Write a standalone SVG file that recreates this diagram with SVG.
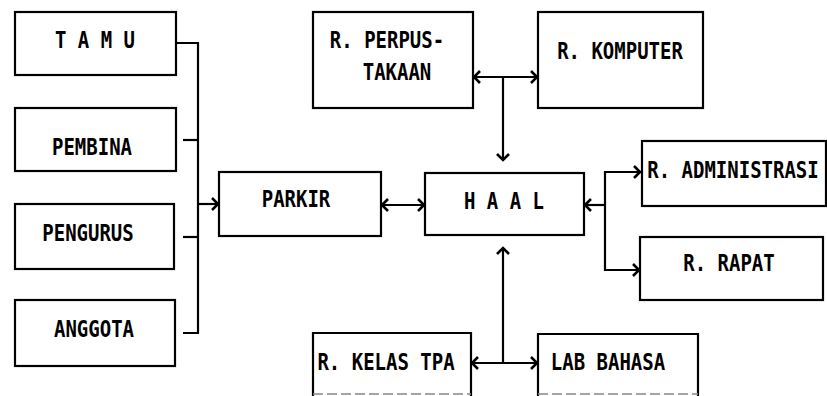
<svg xmlns="http://www.w3.org/2000/svg" width="827" height="396" viewBox="0 0 827 396">
<style>
.box{fill:#fff;stroke:#000;stroke-width:2.2}
.faint{fill:none;stroke:#888;stroke-width:1.5;stroke-dasharray:10 4}
.lbl{font-family:"DejaVu Sans Mono","Liberation Mono",monospace;font-size:19px;font-weight:bold;fill:#000;text-anchor:middle}
.c{fill:none;stroke:#000;stroke-width:2.2}
.a{marker-end:url(#chev)}
.ab{marker-start:url(#chev);marker-end:url(#chev)}
.as{marker-start:url(#chev)}
</style>
<defs>
<marker id="chev" markerUnits="userSpaceOnUse" markerWidth="12" markerHeight="14" refX="7" refY="6" orient="auto-start-reverse" overflow="visible">
<path d="M1,0 L7,6 L1,12" fill="none" stroke="#000" stroke-width="2.6"/>
</marker>
</defs>
<rect width="827" height="396" fill="#fff"/>
<g id="connectors">
<path class="c" d="M176,43 H198 V333 H183"/>
<path class="c" d="M183,140 H198"/>
<path class="c" d="M183,237 H198"/>
<path class="c a" d="M198,204 H218"/>
<path class="c ab" d="M382,205 H424"/>
<path class="c ab" d="M474,77 H537"/>
<path class="c a" d="M503,77 V160"/>
<path class="c as" d="M503,248 V363"/>
<path class="c ab" d="M472,363 H537"/>
<path class="c as" d="M585,205 H605"/>
<path class="c ab" d="M640,172 H605 V270 H639"/>
</g>
<g id="tamu"><rect class="box" x="15" y="12" width="161" height="63"/><text class="lbl" transform="translate(95 48) scale(1 1.2)">T A M U</text></g>
<g id="pembina"><rect class="box" x="15" y="108" width="161" height="63"/><text class="lbl" transform="translate(92 155) scale(1 1.2)">PEMBINA</text></g>
<g id="pengurus"><rect class="box" x="15" y="204" width="159" height="65"/><text class="lbl" transform="translate(88 241) scale(1 1.2)">PENGURUS</text></g>
<g id="anggota"><rect class="box" x="15" y="300" width="160" height="66"/><text class="lbl" transform="translate(94 337) scale(1 1.2)">ANGGOTA</text></g>
<g id="parkir"><rect class="box" x="219" y="172" width="162" height="64"/><text class="lbl" transform="translate(296 207) scale(1 1.2)">PARKIR</text></g>
<g id="haal"><rect class="box" x="425" y="173" width="159" height="62"/><text class="lbl" transform="translate(504 209) scale(1 1.2)">H A A L</text></g>
<g id="perpustakaan"><rect class="box" x="313" y="12" width="160" height="96"/><text class="lbl" transform="translate(387 48) scale(1 1.2)">R. PERPUS-</text><text class="lbl" transform="translate(397 80) scale(1 1.2)">TAKAAN</text></g>
<g id="komputer"><rect class="box" x="538" y="12" width="165" height="96"/><text class="lbl" transform="translate(620 59) scale(1 1.2)">R. KOMPUTER</text></g>
<g id="administrasi"><rect class="box" x="642" y="141" width="184" height="65"/><text class="lbl" transform="translate(733 178) scale(1 1.2)">R. ADMINISTRASI</text></g>
<g id="rapat"><rect class="box" x="640" y="237" width="183" height="63"/><text class="lbl" transform="translate(729 271) scale(1 1.2)">R. RAPAT</text></g>
<g id="kelas-tpa"><path class="c" d="M313,396 V333 H471 V396"/><path class="faint" d="M313,394 H471"/><text class="lbl" transform="translate(386 370) scale(1 1.2)">R. KELAS TPA</text></g>
<g id="lab-bahasa"><path class="c" d="M538,396 V334 H698 V396"/><path class="faint" d="M538,394 H698"/><text class="lbl" transform="translate(608 370) scale(1 1.2)">LAB BAHASA</text></g>
</svg>
